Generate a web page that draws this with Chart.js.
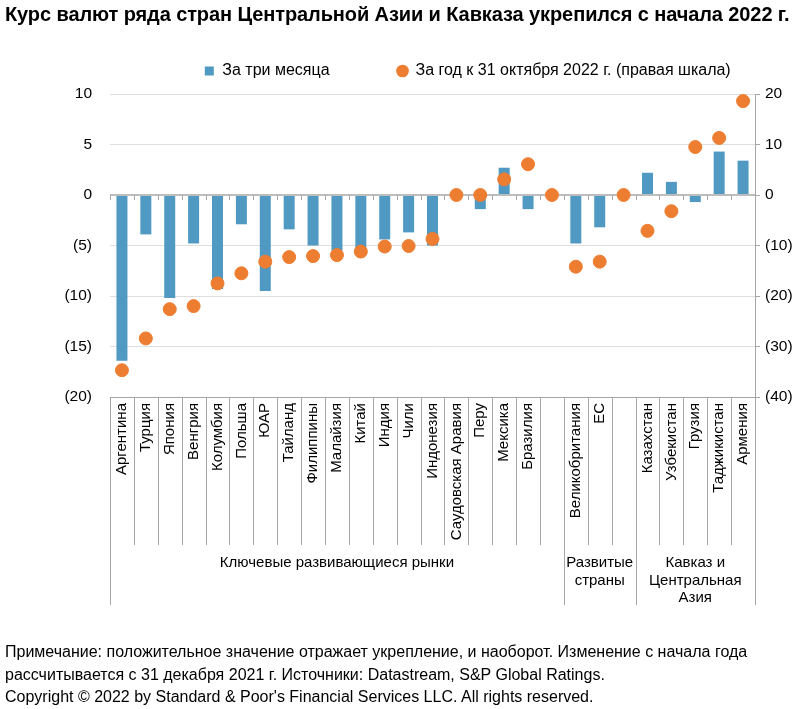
<!DOCTYPE html>
<html>
<head>
<meta charset="utf-8">
<script src="https://cdn.jsdelivr.net/npm/chart.js@4/dist/chart.umd.min.js"></script>
<style>
  body { margin: 0; background: #fff; font-family: "Liberation Sans", Arial, sans-serif; }
  #wrap { position: relative; width: 809px; height: 709px; }
  #grafico { position: absolute; left: 0; top: 0; }
  .titulo { position: absolute; left: 5px; top: 3px; font-weight: bold; font-size: 20px; letter-spacing: -0.1px; color: #000; white-space: nowrap; }
  .nota { position: absolute; left: 5px; top: 641px; font-size: 16px; line-height: 22.5px; color: #000; white-space: nowrap; }
</style>
</head>
<body>
<div id="wrap">
  <canvas id="grafico" width="809" height="709"></canvas>
  <div class="titulo">Курс валют ряда стран Центральной Азии и Кавказа укрепился с начала 2022 г.</div>
  <div class="nota">Примечание: положительное значение отражает укрепление, и наоборот. Изменение с начала года<br>рассчитывается с 31 декабря 2021 г. Источники: Datastream, S&amp;P Global Ratings.<br>Copyright © 2022 by Standard &amp; Poor's Financial Services LLC. All rights reserved.</div>
</div>
<script>
const paises = ['Аргентина', 'Турция', 'Япония', 'Венгрия', 'Колумбия', 'Польша', 'ЮАР', 'Тайланд',
  'Филиппины', 'Малайзия', 'Китай', 'Индия', 'Чили', 'Индонезия', 'Саудовская Аравия', 'Перу',
  'Мексика', 'Бразилия', '', 'Великобритания', 'ЕС', '', 'Казахстан', 'Узбекистан', 'Грузия',
  'Таджикистан', 'Армения'];
const tresMeses = [-16.4, -3.9, -10.2, -4.8, -9.3, -2.9, -9.5, -3.4, -5.0, -5.5, -5.3, -4.4, -3.7, -5.0,
  0, -1.4, 2.7, -1.4, null, -4.8, -3.2, null, 2.2, 1.3, -0.7, 4.3, 3.4];
const anoAte31Out = [-34.7, -28.4, -22.6, -22.0, -17.5, -15.5, -13.2, -12.3, -12.1, -11.9, -11.2, -10.2,
  -10.1, -8.7, 0, 0, 3.1, 6.1, 0, -14.2, -13.2, 0, -7.1, -3.2, 9.5, 11.3, 18.6];
const grupos = [
  { nome: ['Ключевые развивающиеся рынки'], de: 0, ate: 19 },
  { nome: ['Развитые', 'страны'], de: 19, ate: 22 },
  { nome: ['Кавказ и', 'Центральная', 'Азия'], de: 22, ate: 27 }
];
const ticksEsq = [-20, -15, -10, -5, 0, 5, 10];
const ticksDir = [-40, -30, -20, -10, 0, 10, 20];

const fonte = '"Liberation Sans", Arial, sans-serif';
const cinza = '#a6a6a6';

function fmt(v) {
  return v < 0 ? '(' + Math.abs(v) + ')' : String(v);
}

// separadores e rótulos dos grupos sob o eixo x
const separadores = {
  id: 'separadores',
  afterDraw(chart) {
    const ctx = chart.ctx;
    const x = chart.scales.x;
    const y = chart.scales.y;
    const passo = x.getPixelForValue(1) - x.getPixelForValue(0);
    const x0 = x.getPixelForValue(0) - passo / 2;
    const fundo = chart.chartArea.bottom;
    const zero = y.getPixelForValue(0);
    const limites = [0, 19, 22, 27];
    ctx.save();
    ctx.strokeStyle = cinza;
    ctx.lineWidth = 1;
    for (let k = 0; k <= paises.length; k++) {
      const px = Math.round(x0 + k * passo) + 0.5;
      const fim = limites.includes(k) ? 605 : 545;
      ctx.beginPath();
      ctx.moveTo(px, fundo);
      ctx.lineTo(px, fim);
      ctx.moveTo(px, zero);
      ctx.lineTo(px, zero + 5);
      ctx.stroke();
    }
    ctx.fillStyle = '#000';
    ctx.font = '15px ' + fonte;
    ctx.textAlign = 'center';
    ctx.textBaseline = 'middle';
    grupos.forEach(g => {
      const cx = x0 + (g.de + g.ate) / 2 * passo;
      g.nome.forEach((linha, i) => ctx.fillText(linha, cx, 563 + i * 17.5));
    });
    ctx.restore();
  }
};

// legenda: altura fixa e deslocada para a direita como no original
const ajusteLegenda = {
  id: 'ajusteLegenda',
  afterInit(chart) {
    const lg = chart.legend;
    const fitOrig = lg.fit.bind(lg);
    lg.fit = function () { fitOrig(); this.height = 42; };
  },
  afterLayout(chart) {
    const lg = chart.legend;
    const pad = lg.options.labels.padding;
    lg.top = 71 - pad - 8;
    lg.left += 63;
    lg.right += 63;
  }
};

new Chart(document.getElementById('grafico'), {
  data: {
    labels: paises,
    datasets: [{
      type: 'bar',
      label: 'За три месяца',
      data: tresMeses,
      backgroundColor: '#4f99c2',
      barPercentage: 0.46,
      categoryPercentage: 1,
      yAxisID: 'y',
      order: 2
    }, {
      type: 'line',
      label: 'За год к 31 октября 2022 г. (правая шкала)',
      data: anoAte31Out,
      showLine: false,
      pointRadius: 6.5,
      pointStyle: 'circle',
      backgroundColor: '#ed7d31',
      borderColor: '#ed7d31',
      yAxisID: 'y1',
      order: 1
    }]
  },
  options: {
    responsive: false,
    animation: false,
    layout: { padding: { top: 52, left: 0, right: 0, bottom: 0 } },
    plugins: {
      legend: {
        labels: {
          usePointStyle: true,
          boxHeight: 9,
          boxWidth: 10,
          color: '#000',
          font: { family: fonte, size: 16 },
          padding: 68,
          generateLabels(chart) {
            return chart.data.datasets.map((d, i) => ({
              text: d.label,
              fillStyle: d.backgroundColor,
              strokeStyle: d.backgroundColor,
              lineWidth: 0,
              pointStyle: i === 0 ? 'rect' : 'circle',
              datasetIndex: i
            }));
          }
        }
      },
      tooltip: { enabled: false }
    },
    scales: {
      x: {
        grid: { display: false, drawTicks: false },
        border: { display: true, color: cinza },
        ticks: {
          color: '#000',
          font: { family: fonte, size: 15 },
          minRotation: 90,
          maxRotation: 90,
          autoSkip: false,
          padding: 6
        },
        afterFit(s) { s.height = 312; }
      },
      y: {
        position: 'left',
        min: -20,
        max: 10,
        afterBuildTicks(s) { s.ticks = ticksEsq.map(v => ({ value: v })); },
        grid: {
          drawTicks: false,
          color: c => c.tick && c.tick.value === 0 ? '#bdbdbd' : '#dedede',
          lineWidth: c => c.tick && c.tick.value === 0 ? 2 : 1
        },
        border: { display: false },
        ticks: {
          color: '#000',
          font: { family: fonte, size: 15.5 },
          padding: 18,
          callback: v => fmt(v)
        },
        afterFit(s) { s.width = 110; }
      },
      y1: {
        position: 'right',
        min: -40,
        max: 20,
        afterBuildTicks(s) { s.ticks = ticksDir.map(v => ({ value: v })); },
        grid: { drawOnChartArea: false, drawTicks: true, tickLength: 5, color: cinza },
        border: { display: true, color: cinza },
        ticks: {
          color: '#000',
          font: { family: fonte, size: 15.5 },
          padding: 5,
          callback: v => fmt(v)
        },
        afterFit(s) { s.width = 54; }
      }
    }
  },
  plugins: [separadores, ajusteLegenda]
});
</script>
</body>
</html>
